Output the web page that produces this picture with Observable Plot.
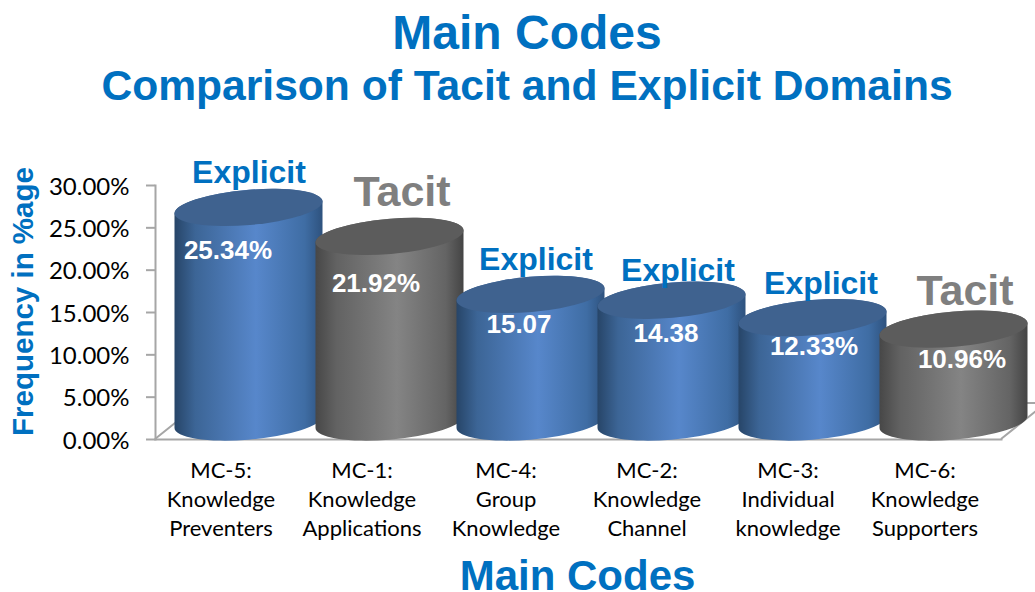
<!DOCTYPE html>
<html>
<head>
<meta charset="utf-8">
<script src="https://cdn.jsdelivr.net/npm/d3@7"></script>
<script src="https://cdn.jsdelivr.net/npm/@observablehq/plot@0.6"></script>
<style>
  html, body { margin: 0; padding: 0; background: #fff; overflow: hidden; }
  #head { height: 110px; position: relative; font-family: "Liberation Sans", Arial, sans-serif; font-weight: bold; color: #0070C0; text-align: center; }
  #head div { position: absolute; left: 0; width: 1054px; white-space: nowrap; }
  #t1 { top: 5px; font-size: 48px; line-height: 56px; }
  #t2 { top: 63px; font-size: 42.6px; line-height: 44px; }
  svg { display: block; }
</style>
</head>
<body>
<div id="head"><div id="t1">Main Codes</div><div id="t2">Comparison of Tacit and Explicit Domains</div></div>
<div id="chart"></div>
<script>
const categories = [
  "MC-5:\nKnowledge\nPreventers",
  "MC-1:\nKnowledge\nApplications",
  "MC-4:\nGroup\nKnowledge",
  "MC-2:\nKnowledge\nChannel",
  "MC-3:\nIndividual\nknowledge",
  "MC-6:\nKnowledge\nSupporters"
];
const values = [25.34, 21.92, 15.07, 14.38, 12.33, 10.96];
const valueLabels = ["25.34%", "21.92%", "15.07", "14.38", "12.33%", "10.96%"];
const domains = ["Explicit", "Tacit", "Explicit", "Explicit", "Explicit", "Tacit"];
const yTicks = [0, 5, 10, 15, 20, 25, 30];

// hand-placed label nudges, as in the source slide
const categoryNudge = [-28, -28, -25, -25, -25, -29];
const valueNudge = [[-21, 26], [-14, 30], [-12, 13], [-6, 16], [1, 12], [8, 13]];
const domainNudge = [[0, -52], [12, -62], [5, -52], [6, -47], [8, -51], [11, -55]];

const rows = categories.map((category, i) => ({category, value: values[i], label: valueLabels[i], domain: domains[i]}));

const BLUE = "#0070C0", GREY = "#7f7f7f", AXIS = "#a6a6a6";
const paints = {
  Explicit: {top: "#3f628f", stops: [[0, "#274568"], [0.14, "#3c6596"], [0.55, "#5787cb"], [0.88, "#3f6da4"], [1, "#2e527e"]]},
  Tacit: {top: "#5c5c5c", stops: [[0, "#474747"], [0.14, "#626262"], [0.55, "#848484"], [0.88, "#646464"], [1, "#444444"]]}
};

// Floor of the 3D box, from the plot frame
function floor(index, scales, values, {width, height, marginLeft, marginRight, marginBottom}) {
  const L = marginLeft, R = width - marginRight, B = height - marginBottom, dx = 45, dy = 36;
  return d3.create("svg:path")
    .attr("d", `M${L},${B}L${L + dx},${B - dy}L${R + dx},${B - dy}L${R},${B}`)
    .attr("fill", "none").attr("stroke", AXIS).attr("stroke-width", 2).node();
}

// Replaces each bar's rect with a tilted cylinder, using the bar's scaled values
function cylinders(index, scales, channels) {
  const g = d3.create("svg:g");
  const defs = g.append("defs");
  for (const k of Object.keys(paints)) {
    const grad = defs.append("linearGradient").attr("id", "cyl-" + k).attr("x1", 0).attr("x2", 1).attr("y1", 0).attr("y2", 0);
    for (const [o, c] of paints[k].stops) grad.append("stop").attr("offset", o).attr("stop-color", c);
  }
  const bw = scales.x.bandwidth();
  const hw = bw * 74 / 141, lift = 17, skew = 6, a = 74.25 * hw / 74, b = 17.6, rot = -4.9;
  for (const i of index) {
    const cx = channels.x[i] + bw / 2;
    const top = channels.y2[i] - lift, bot = channels.y1[i] - lift;
    const arc = (x, y) => `A${a},${b} ${rot} 0 0 ${x},${y}`;
    const row = rows[i];
    g.append("path")
      .attr("d", `M${cx - hw},${top + skew}L${cx - hw},${bot + skew}${arc(cx + hw, bot - skew)}L${cx + hw},${top - skew}${arc(cx - hw, top + skew)}Z`)
      .attr("fill", `url(#cyl-${row.domain})`);
    g.append("ellipse")
      .attr("rx", a).attr("ry", b)
      .attr("transform", `translate(${cx},${top}) rotate(${rot})`)
      .attr("fill", paints[row.domain].top);
  }
  return g.node();
}

const plot = Plot.plot({
  width: 1035,
  height: 482,
  marginLeft: 155,
  marginRight: 34,
  marginTop: 75,
  marginBottom: 153,
  style: {fontFamily: "Lato, sans-serif", background: "transparent", overflow: "hidden"},
  x: {domain: categories, range: [178, 1024], paddingInner: 0, paddingOuter: 0, label: null, axis: null},
  y: {domain: [0, 30], label: null},
  marks: [
    floor,
    Plot.frame({anchor: "left", stroke: AXIS, strokeWidth: 2}),
    Plot.frame({anchor: "bottom", stroke: AXIS, strokeWidth: 2}),
    Plot.axisY({ticks: yTicks, tickSize: 9, fill: "none", stroke: AXIS, strokeWidth: 2, label: null}),
    Plot.axisY({ticks: yTicks, tickFormat: d => d.toFixed(2) + "%", tickSize: 9, tickPadding: 17, dy: 1.5, fontSize: 24, fill: "#000", stroke: "none", label: null}),
    ...rows.map((r, i) => Plot.text([r], {x: "category", frameAnchor: "bottom", lineAnchor: "top", text: "category", dx: categoryNudge[i], dy: 18, fill: "#000", fontSize: 22, lineHeight: 1.32})),
    Plot.barY(rows, {x: "category", y: "value", fill: "domain", render: cylinders}),
    ...rows.map((r, i) => Plot.text([r], {x: "category", y: "value", text: "label", dx: valueNudge[i][0], dy: valueNudge[i][1], fill: "#fff", fontSize: 26, fontWeight: "bold", fontFamily: "Liberation Sans"})),
    ...rows.map((r, i) => Plot.text([r], {x: "category", y: "value", text: "domain", dx: domainNudge[i][0], dy: domainNudge[i][1],
      fill: r.domain === "Tacit" ? GREY : BLUE, fontSize: r.domain === "Tacit" ? 43 : 32, fontWeight: "bold", fontFamily: "Liberation Sans"})),
    Plot.text(["Frequency in %age"], {frameAnchor: "left", textAnchor: "middle", dx: -132, dy: -11, rotate: -90, fill: BLUE, fontSize: 29.5, fontWeight: "bold", fontFamily: "Liberation Sans"}),
    Plot.text(["Main Codes"], {frameAnchor: "bottom", dx: -1, dy: 150, fill: BLUE, fontSize: 42, fontWeight: "bold", fontFamily: "Liberation Sans"})
  ]
});
document.getElementById("chart").appendChild(plot);
</script>
</body>
</html>
